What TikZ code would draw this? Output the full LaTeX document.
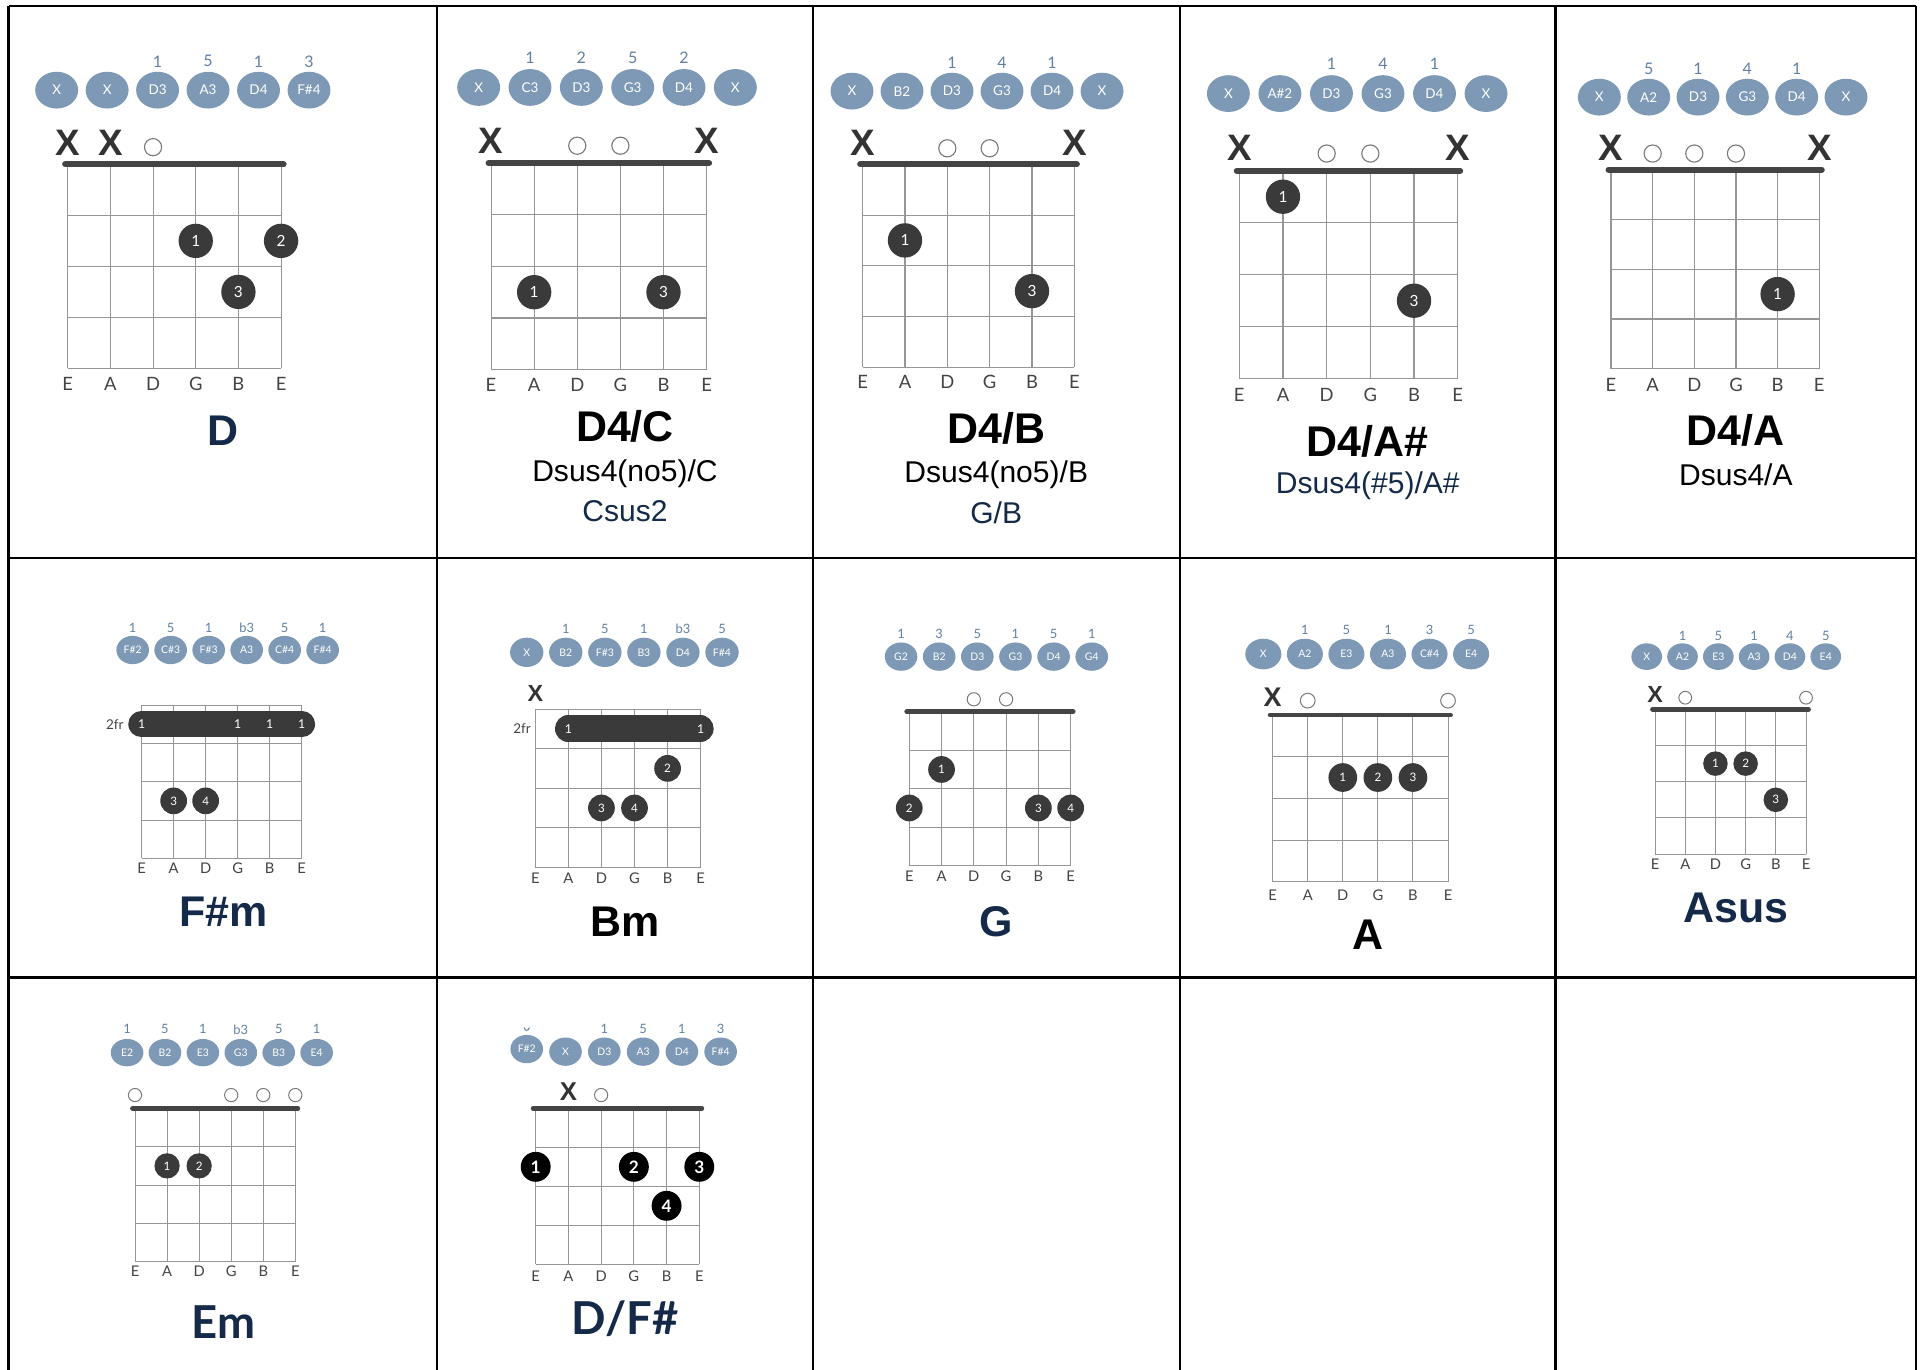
\documentclass[tikz,border=0pt]{standalone}
\usepackage{fontspec}
\setmainfont{Liberation Sans}
\newfontfamily\lato{Lato}
\usetikzlibrary{shapes.geometric}
\definecolor{bubc}{RGB}{126,153,181}
\definecolor{ivc}{RGB}{98,128,163}
\definecolor{navy}{RGB}{20,42,72}
\definecolor{gridc}{RGB}{150,150,150}
\definecolor{nutc}{RGB}{68,68,68}
\definecolor{fingc}{RGB}{58,58,58}
\definecolor{labc}{RGB}{68,68,68}
\definecolor{xc}{RGB}{51,51,51}
\definecolor{oc}{RGB}{120,120,120}
\tikzset{
  cellline/.style={line width=2pt,draw=black},
  gridl/.style={draw=gridc},
  nutA/.style={line width=5pt,line cap=round,draw=nutc},
  nutB/.style={line width=4pt,line cap=round,draw=nutc},
  bubA/.style={ellipse,fill=bubc,text=white,inner sep=0pt,minimum width=35pt,minimum height=30pt,font=\lato\fontsize{11}{12}\selectfont},
  bubB/.style={ellipse,fill=bubc,text=white,inner sep=0pt,minimum width=26.6pt,minimum height=23.1pt,font=\lato\fontsize{8.5}{9}\selectfont},
  ivA/.style={text=ivc,inner sep=0pt,font=\lato\fontsize{13}{14}\selectfont},
  ivB/.style={text=ivc,inner sep=0pt,font=\lato\fontsize{10.5}{11}\selectfont},
  slA/.style={text=labc,inner sep=0pt,font=\lato\fontsize{15}{16}\selectfont},
  slB/.style={text=labc,inner sep=0pt,font=\lato\fontsize{12}{13}\selectfont},
  xmA/.style={text=xc,inner sep=0pt,font=\bfseries\fontsize{30}{31}\selectfont},
  xmB/.style={text=xc,inner sep=0pt,font=\bfseries\fontsize{20}{21}\selectfont},
  omA/.style={circle,draw=oc,line width=0.9pt,minimum size=14pt,inner sep=0pt},
  omB/.style={circle,draw=oc,line width=0.8pt,minimum size=10.8pt,inner sep=0pt},
  fgA/.style={circle,fill=fingc,text=white,inner sep=0pt,minimum size=28pt,font=\lato\fontsize{12.5}{13}\selectfont},
  fgB/.style={circle,fill=fingc,text=white,inner sep=0pt,minimum size=21.8pt,font=\lato\fontsize{9.5}{10}\selectfont},
  fgK/.style={circle,fill=black,text=white,inner sep=0pt,minimum size=24.4pt,font=\lato\bfseries\fontsize{14}{14}\selectfont},
  barreln/.style={line cap=round,draw=fingc},
  bnum/.style={text=white,inner sep=0pt,font=\lato\fontsize{10}{10}\selectfont},
  frlab/.style={text=labc,inner sep=0pt,anchor=east,font=\lato\fontsize{11}{12}\selectfont},
  ttl/.style={inner sep=0pt,font=\bfseries\fontsize{35}{40}\selectfont},
  ttlL/.style={inner sep=0pt,text=navy,font=\lato\bfseries\fontsize{37}{40}\selectfont},
  subt/.style={inner sep=0pt,font=\fontsize{24.5}{28}\selectfont}
}
% x0 dx y0 dy linewidth
\newcommand{\fretgrid}[5]{%
  \foreach \ii in {0,...,5}{\draw[gridl,line width=#5] ({#1+\ii*#2},#3) -- ({#1+\ii*#2},{#3+4*#4});}%
  \foreach \jj in {0,...,4}{\draw[gridl,line width=#5] (#1,{#3+\jj*#4}) -- ({#1+5*#2},{#3+\jj*#4});}%
}
\newcommand{\nutline}[4]{\draw[#4] ({#1-2},#3) -- ({#1+5*#2+2},#3);}
\newcommand{\strlabels}[4]{%
  \foreach \lab [count=\ii from 0] in {E,A,D,G,B,E}{\node[#4] at ({#1+\ii*#2},#3) {\lab};}%
}
% x0 dx y style prefix labels
\newcommand{\bubbles}[6]{%
  \foreach \lab [count=\ii from 0] in {#6}{\node[#4] (#5\ii) at ({#1+\ii*#2},#3) {\lab};}%
}
\newcommand{\intervals}[5]{%
  \foreach \ii/\lab in {#5}{\node[#4] at ({#1+\ii*#2},#3) {\lab};}%
}
\newcommand{\fingers}[6]{%
  \foreach \sidx/\fidx/\flab in {#6}{\node[#5] at ({#1+\sidx*#2},{#3+(\fidx-0.5)*#4}) {\flab};}%
}
\newcommand{\mutes}[5]{%
  \foreach \sidx in {#5}{\node[#4] at ({#1+\sidx*#2},#3) {X};}%
}
\newcommand{\opens}[5]{%
  \foreach \sidx in {#5}{\node[#4] at ({#1+\sidx*#2},#3) {};}%
}
\begin{document}
\begin{tikzpicture}[x=1pt,y=-1pt]
\useasboundingbox (0,0) rectangle (1568,1117);
\fill[white] (0,0) rectangle (1568,1117);
% table
\draw[cellline] (7,5) -- (1562.3,5);
\draw[cellline] (7,455) -- (1562.3,455);
\draw[cellline] (7,797) -- (1562.3,797);
\foreach \xx in {7,356.5,662.7,962,1268.5,1562.3}{\draw[cellline] (\xx,5) -- (\xx,1117);}
% ---------- D
\fretgrid{55.2}{34.8}{134}{41.6}{0.9pt}
\nutline{55.2}{34.8}{134}{nutA}
\strlabels{55.2}{34.8}{313}{slA}
\bubbles{46.2}{41.15}{73.5}{bubA}{a}{X,X,D3,A3,D4,F\#4}
\intervals{46.2}{41.15}{50}{ivA}{2/1,3/5,4/1,5/3}
\mutes{55.2}{34.8}{116.5}{xmA}{0,1}
\opens{55.2}{34.8}{120}{omA}{2}
\fingers{55.2}{34.8}{134}{41.6}{fgA}{3/2/1,5/2/2,4/3/3}
\node[ttl,text=navy] (tD) at (182,351) {D};
% ---------- D4/C
\fretgrid{400.4}{35.15}{133}{42.1}{0.9pt}
\nutline{400.4}{35.15}{133}{nutA}
\strlabels{400.4}{35.15}{314}{slA}
\bubbles{390.3}{41.86}{71.3}{bubA}{b}{X,C3,D3,G3,D4,X}
\intervals{390.3}{41.86}{47.2}{ivA}{1/1,2/2,3/5,4/2}
\mutes{400.4}{35.15}{115}{xmA}{0,5}
\opens{400.4}{35.15}{118.8}{omA}{2,3}
\fingers{400.4}{35.15}{133}{42.1}{fgA}{1/3/1,4/3/3}
\node[ttl] (tDC) at (509.6,348) {D4/C};
\node[subt] (sDC1) at (509.6,386) {Dsus4(no5)/C};
\node[subt,text=navy] (sDC2) at (509.6,417) {Csus2};
% ---------- D4/B
\fretgrid{703.4}{34.52}{134}{41.35}{0.9pt}
\nutline{703.4}{34.52}{134}{nutA}
\strlabels{703.4}{34.52}{311.6}{slA}
\bubbles{694.7}{40.78}{74.3}{bubA}{c}{X,B2,D3,G3,D4,X}
\intervals{694.7}{40.78}{51}{ivA}{2/1,3/4,4/1}
\mutes{703.4}{34.52}{116.5}{xmA}{0,5}
\opens{703.4}{34.52}{120.9}{omA}{2,3}
\fingers{703.4}{34.52}{134}{41.35}{fgA}{1/2/1,4/3/3}
\node[ttl] (tDB) at (812.3,349.5) {D4/B};
\node[subt] (sDB1) at (812.3,387.3) {Dsus4(no5)/B};
\node[subt,text=navy] (sDB2) at (812.3,418) {G/B};
% ---------- D4/A#
\fretgrid{1010.5}{35.62}{139.2}{42.4}{0.9pt}
\nutline{1010.5}{35.62}{139.2}{nutA}
\strlabels{1010.5}{35.62}{321.8}{slA}
\bubbles{1001.6}{42.02}{76.3}{bubA}{d}{X,A\#2,D3,G3,D4,X}
\intervals{1001.6}{42.02}{52.4}{ivA}{2/1,3/4,4/1}
\mutes{1010.5}{35.62}{120.9}{xmA}{0,5}
\opens{1010.5}{35.62}{125.2}{omA}{2,3}
\fingers{1010.5}{35.62}{139.2}{42.4}{fgA}{1/1/1,4/3/3}
\node[ttl] (tDAs) at (1115.3,359.6) {D4/A\#};
\node[subt,text=navy] (sDAs) at (1115.3,396) {Dsus4(\#5)/A\#};
% ---------- D4/A
\fretgrid{1313.6}{33.96}{138.3}{40.6}{0.9pt}
\nutline{1313.6}{33.96}{138.3}{nutA}
\strlabels{1313.6}{33.96}{313.6}{slA}
\bubbles{1304.1}{40.22}{79.2}{bubA}{e}{X,A2,D3,G3,D4,X}
\intervals{1304.1}{40.22}{55.9}{ivA}{1/5,2/1,3/4,4/1}
\mutes{1313.6}{33.96}{120.9}{xmA}{0,5}
\opens{1313.6}{33.96}{125.2}{omA}{1,2,3}
\fingers{1313.6}{33.96}{138.3}{40.6}{fgA}{4/3/1}
\node[ttl] (tDA) at (1415.4,351) {D4/A};
\node[subt] (sDA) at (1415.4,387.3) {Dsus4/A};
% ---------- F#m
\fretgrid{115.5}{26.1}{574.9}{31.25}{0.8pt}
\strlabels{115.5}{26.1}{708}{slB}
\bubbles{108.2}{30.98}{530}{bubB}{f}{F\#2,C\#3,F\#3,A3,C\#4,F\#4}
\intervals{108.2}{30.98}{511.8}{ivB}{0/1,1/5,2/1,3/b3,4/5,5/1}
\draw[barreln,line width=21.2pt] (115.2,590.5) -- (246.3,590.5);
\foreach \sidx in {0,3,4,5}{\node[bnum] at ({115.5+\sidx*26.1},590.5) {1};}
\node[frlab] (frF) at (101,590.5) {2fr};
\fingers{115.5}{26.1}{574.9}{31.25}{fgB}{1/3/3,2/3/4}
\node[ttl,text=navy] (tFm) at (182,743.4) {F\#m};
% ---------- Bm
\fretgrid{436.5}{26.96}{578.1}{32.28}{0.8pt}
\strlabels{436.5}{26.96}{716.2}{slB}
\bubbles{429.5}{31.84}{531.9}{bubB,minimum width=27.2pt,minimum height=23.9pt}{g}{X,B2,F\#3,B3,D4,F\#4}
\intervals{429.5}{31.84}{512.9}{ivB}{1/1,2/5,3/1,4/b3,5/5}
\mutes{436.5}{26.96}{565.3}{xmB,font=\bfseries\fontsize{19}{20}\selectfont}{0}
\draw[barreln,line width=21.7pt] (463.35,594.2) -- (571.05,594.2);
\foreach \sidx in {1,5}{\node[bnum] at ({436.5+\sidx*26.96},594.2) {1};}
\node[frlab] (frB) at (433,594.2) {2fr};
\fingers{436.5}{26.96}{578.1}{32.28}{fgB}{4/2/2,2/3/3,3/3/4}
\node[ttl] (tBm) at (509.6,751.5) {Bm};
% ---------- G
\fretgrid{741.4}{26.32}{580.3}{31.4}{0.8pt}
\nutline{741.4}{26.32}{580.3}{nutB}
\strlabels{741.4}{26.32}{714.8}{slB}
\bubbles{734.7}{31.1}{535.4}{bubB}{h}{G2,B2,D3,G3,D4,G4}
\intervals{734.7}{31.1}{517.2}{ivB}{0/1,1/3,2/5,3/1,4/5,5/1}
\opens{741.4}{26.32}{570.2}{omB}{2,3}
\fingers{741.4}{26.32}{580.3}{31.4}{fgB}{1/2/1,0/3/2,4/3/3,5/3/4}
\node[ttl,text=navy] (tG) at (812.3,751.5) {G};
% ---------- A
\fretgrid{1037.7}{28.6}{583}{33.98}{0.8pt}
\nutline{1037.7}{28.6}{583}{nutB}
\strlabels{1037.7}{28.6}{729.8}{slB}
\bubbles{1030.1}{33.88}{533.3}{bubB,minimum width=29.4pt,minimum height=25pt}{k}{X,A2,E3,A3,C\#4,E4}
\intervals{1030.1}{33.88}{513.7}{ivB}{1/1,2/5,3/1,4/3,5/5}
\mutes{1037.7}{28.6}{568.9}{xmB,font=\bfseries\fontsize{22}{23}\selectfont}{0}
\opens{1037.7}{28.6}{571.3}{omB,minimum size=12pt}{1,5}
\fingers{1037.7}{28.6}{583}{33.98}{fgB,minimum size=23.4pt}{2/2/1,3/2/2,4/2/3}
\node[ttl] (tA) at (1115.3,762.4) {A};
% ---------- Asus
\fretgrid{1349.5}{24.62}{578.4}{29.5}{0.8pt}
\nutline{1349.5}{24.62}{578.4}{nutB}
\strlabels{1349.5}{24.62}{704.8}{slB}
\bubbles{1342.7}{29.2}{535.4}{bubB,minimum width=25pt,minimum height=21.7pt}{m}{X,A2,E3,A3,D4,E4}
\intervals{1342.7}{29.2}{518.3}{ivB}{1/1,2/5,3/1,4/4,5/5}
\mutes{1349.5}{24.62}{566.2}{xmB,font=\bfseries\fontsize{19}{20}\selectfont}{0}
\opens{1349.5}{24.62}{568.9}{omB,minimum size=10.4pt}{1,5}
\fingers{1349.5}{24.62}{578.4}{29.5}{fgB,minimum size=20pt}{2/2/1,3/2/2,4/3/3}
\node[ttl,text=navy] (tAs) at (1415.4,740.7) {Asus};
% ---------- Em
\fretgrid{110.1}{26.14}{903.7}{31.28}{0.8pt}
\nutline{110.1}{26.14}{903.7}{nutB}
\strlabels{110.1}{26.14}{1036.9}{slB}
\bubbles{103.6}{30.92}{858.3}{bubB,minimum height=22.3pt}{n}{E2,B2,E3,G3,B3,E4}
\intervals{103.6}{30.92}{839.3}{ivB}{0/1,1/5,2/1,3/b3,4/5,5/1}
\opens{110.1}{26.14}{892.9}{omB}{0,3,4,5}
\fingers{110.1}{26.14}{903.7}{31.28}{fgB,minimum size=20.6pt}{1/2/1,2/2/2}
\node[ttlL] (tEm) at (182,1077.7) {Em};
% ---------- D/F#
\fretgrid{436.8}{26.68}{903.7}{31.8}{0.8pt}
\nutline{436.8}{26.68}{903.7}{nutB}
\strlabels{436.8}{26.68}{1040.5}{slB}
\node[bubB] (p0) at (429.5,855.4) {F\#2};
\bubbles{461.12}{31.62}{857.5}{bubB}{p}{X,D3,A3,D4,F\#4}
\intervals{429.5}{31.62}{839}{ivB}{2/1,3/5,4/1,5/3}
\draw[ivc,line width=0.8pt] (427.3,837.8) .. controls (428.3,841) and (430.7,841) .. (431.7,837.8);
\mutes{436.8}{26.68}{890.1}{xmB,font=\bfseries\fontsize{21}{22}\selectfont}{1}
\opens{436.8}{26.68}{892.9}{omB}{2}
\fingers{436.8}{26.68}{903.7}{31.8}{fgK}{0/2/1,3/2/2,5/2/3,4/3/4}
\node[ttlL] (tDF) at (509.6,1075) {D/F\#};
\end{tikzpicture}
\end{document}
